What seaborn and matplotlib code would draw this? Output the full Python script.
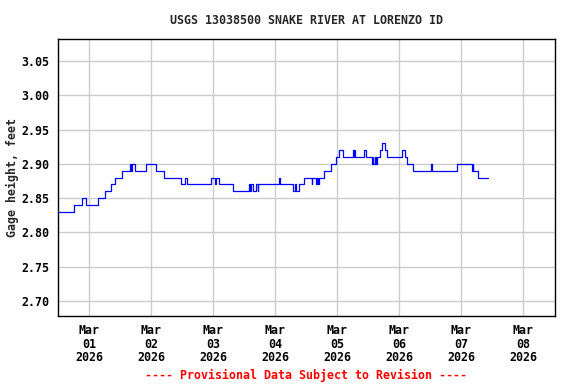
import matplotlib
matplotlib.use("Agg")
import matplotlib.pyplot as plt
import pandas as pd
import seaborn as sns

# change points of the gage height record (value holds until next time)
times = [
    "2026-02-28 12:00", "2026-02-28 18:15", "2026-02-28 21:15", "2026-02-28 23:00",
    "2026-03-01 03:30", "2026-03-01 06:15", "2026-03-01 08:30", "2026-03-01 10:15",
    "2026-03-01 12:45", "2026-03-01 15:45", "2026-03-01 16:15", "2026-03-01 16:30",
    "2026-03-01 17:45", "2026-03-01 22:00",
    "2026-03-02 02:00", "2026-03-02 05:00", "2026-03-02 11:30", "2026-03-02 13:15",
    "2026-03-02 14:00", "2026-03-02 23:15",
    "2026-03-03 00:45", "2026-03-03 01:15", "2026-03-03 02:30", "2026-03-03 07:45",
    "2026-03-03 14:00", "2026-03-03 14:30", "2026-03-03 14:45", "2026-03-03 15:30",
    "2026-03-03 16:30", "2026-03-03 17:15", "2026-03-03 17:30",
    "2026-03-04 01:30", "2026-03-04 01:45", "2026-03-04 07:00", "2026-03-04 07:45",
    "2026-03-04 08:15", "2026-03-04 09:15", "2026-03-04 11:15", "2026-03-04 14:15",
    "2026-03-04 14:30", "2026-03-04 16:00", "2026-03-04 16:15", "2026-03-04 16:30",
    "2026-03-04 17:00", "2026-03-04 19:00", "2026-03-04 21:45", "2026-03-04 23:30",
    "2026-03-05 00:45", "2026-03-05 02:30", "2026-03-05 06:15", "2026-03-05 06:30",
    "2026-03-05 06:45", "2026-03-05 07:00", "2026-03-05 10:30", "2026-03-05 11:15",
    "2026-03-05 13:30", "2026-03-05 13:45", "2026-03-05 14:00", "2026-03-05 14:45",
    "2026-03-05 15:00", "2026-03-05 15:30", "2026-03-05 16:30", "2026-03-05 17:15",
    "2026-03-05 18:30", "2026-03-05 19:30",
    "2026-03-06 01:15", "2026-03-06 02:15", "2026-03-06 03:00", "2026-03-06 05:30",
    "2026-03-06 12:15", "2026-03-06 12:45", "2026-03-06 22:30",
    "2026-03-07 04:15", "2026-03-07 04:30", "2026-03-07 04:45", "2026-03-07 06:30",
    "2026-03-07 10:30",
]
values = [
    2.83, 2.84, 2.85, 2.84,
    2.85, 2.86, 2.87, 2.88,
    2.89, 2.90, 2.89, 2.90,
    2.89, 2.90,
    2.89, 2.88, 2.87, 2.88,
    2.87, 2.88,
    2.87, 2.88, 2.87, 2.86,
    2.87, 2.86, 2.87, 2.86,
    2.87, 2.86, 2.87,
    2.88, 2.87, 2.86, 2.87,
    2.86, 2.87, 2.88, 2.87,
    2.88, 2.87, 2.88, 2.87,
    2.88, 2.89, 2.90, 2.91,
    2.92, 2.91, 2.92, 2.91,
    2.92, 2.91, 2.92, 2.91,
    2.90, 2.91, 2.90, 2.91,
    2.90, 2.91, 2.92, 2.93,
    2.92, 2.91,
    2.92, 2.91, 2.90, 2.89,
    2.90, 2.89, 2.90,
    2.89, 2.90, 2.89, 2.88,
    2.88,
]
y_ticks = [2.70, 2.75, 2.80, 2.85, 2.90, 2.95, 3.00, 3.05]
x_ticks = pd.date_range("2026-03-01", "2026-03-08", freq="D")

df = pd.DataFrame({"time": pd.to_datetime(times), "height": values})

sns.set_theme(style="white")
plt.rcParams["font.family"] = ["DejaVu Sans Mono"]
plt.rcParams["font.weight"] = "bold"

fig = plt.figure(figsize=(5.76, 3.84), dpi=100)
ax = fig.add_axes([58 / 576, 1 - 316 / 384, 497 / 576, 277 / 384])

sns.lineplot(data=df, x="time", y="height", ax=ax, color="#0000ff",
             linewidth=0.9, drawstyle="steps-post", zorder=3)

ax.set_xlim(pd.Timestamp("2026-02-28 12:00"), pd.Timestamp("2026-03-08 12:23"))
ax.set_ylim(2.678, 3.082)
ax.set_yticks(y_ticks)
ax.set_yticklabels([f"{v:.2f}" for v in y_ticks])
ax.set_xticks(x_ticks)
ax.set_xticklabels([d.strftime("%b\n%d\n%Y") for d in x_ticks], linespacing=1.03)

ax.grid(True, color="#cccccc", linewidth=1.0)
ax.set_axisbelow(True)
for s in ax.spines.values():
    s.set_color("black")
    s.set_linewidth(1.0)
ax.tick_params(axis="both", length=0, labelsize=8.4, colors="black")
ax.tick_params(axis="x", pad=6)
ax.tick_params(axis="y", pad=6)
ax.set_xlabel("")
ax.set_ylabel("Gage height, feet", fontsize=8.4, fontweight="bold", labelpad=2)

fig.text(306 / 576, 1 - 20 / 384, "USGS 13038500 SNAKE RIVER AT LORENZO ID",
         ha="center", va="center", fontsize=8.4, fontweight="bold")
fig.text(306 / 576, 1 - 375 / 384, "---- Provisional Data Subject to Revision ----",
         ha="center", va="center", fontsize=8.4, fontweight="bold", color="#ff0000")

fig.savefig("out.png", dpi=100)
